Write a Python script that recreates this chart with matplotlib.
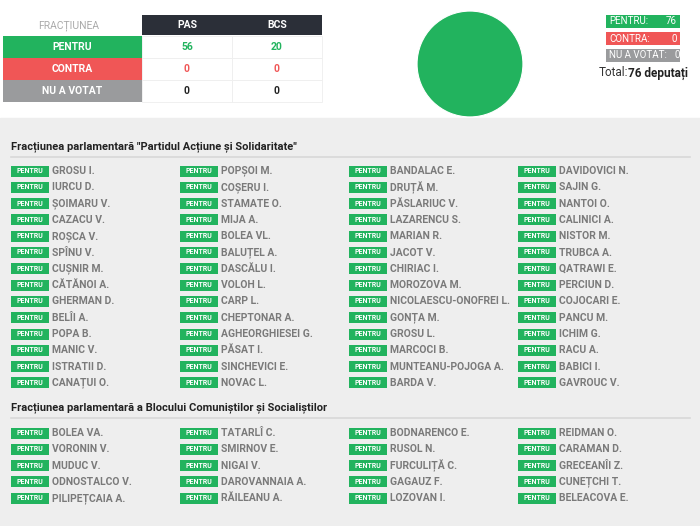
import matplotlib.pyplot as plt
from matplotlib.patches import Rectangle

plt.rcParams["font.family"] = "Roboto"

GREEN = "#22b35e"
RED = "#f05656"
GREY = "#9a9b9d"
DARK = "#2b2f38"

factions = ["PAS", "BCS"]
vote_labels = ["PENTRU", "CONTRA", "NU A VOTAT"]
pas_votes = [56, 0, 0]
bcs_votes = [20, 0, 0]
totals = [a + b for a, b in zip(pas_votes, bcs_votes)]

pas_title = 'Fracțiunea parlamentară "Partidul Acțiune și Solidaritate"'
bcs_title = "Fracțiunea parlamentară a Blocului Comuniștilor și Socialiștilor"

pas_names = [
    ["GROSU I.", "IURCU D.", "ȘOIMARU V.", "CAZACU V.", "ROȘCA V.", "SPÎNU V.", "CUȘNIR M.",
     "CĂTĂNOI A.", "GHERMAN D.", "BELÎI A.", "POPA B.", "MANIC V.", "ISTRATII D.", "CANAȚUI O."],
    ["POPȘOI M.", "COȘERU I.", "STAMATE O.", "MIJA A.", "BOLEA VL.", "BALUȚEL A.", "DASCĂLU I.",
     "VOLOH L.", "CARP L.", "CHEPTONAR A.", "AGHEORGHIESEI G.", "PĂSAT I.", "SINCHEVICI E.", "NOVAC L."],
    ["BANDALAC E.", "DRUȚĂ M.", "PĂSLARIUC V.", "LAZARENCU S.", "MARIAN R.", "JACOT V.", "CHIRIAC I.",
     "MOROZOVA M.", "NICOLAESCU-ONOFREI L.", "GONȚA M.", "GROSU L.", "MARCOCI B.",
     "MUNTEANU-POJOGA A.", "BARDA V."],
    ["DAVIDOVICI N.", "SAJIN G.", "NANTOI O.", "CALINICI A.", "NISTOR M.", "TRUBCA A.", "QATRAWI E.",
     "PERCIUN D.", "COJOCARI E.", "PANCU M.", "ICHIM G.", "RACU A.", "BABICI I.", "GAVROUC V."],
]
bcs_names = [
    ["BOLEA VA.", "VORONIN V.", "MUDUC V.", "ODNOSTALCO V.", "PILIPEȚCAIA A."],
    ["TATARLÎ C.", "SMIRNOV E.", "NIGAI V.", "DAROVANNAIA A.", "RĂILEANU A."],
    ["BODNARENCO E.", "RUSOL N.", "FURCULIȚĂ C.", "GAGAUZ F.", "LOZOVAN I."],
    ["REIDMAN O.", "CARAMAN D.", "GRECEANÎI Z.", "CUNEȚCHI T.", "BELEACOVA E."],
]

fig = plt.figure(figsize=(7, 5.26), dpi=100)
ax = fig.add_axes([0, 0, 1, 1])
ax.set_xlim(0, 700)
ax.set_ylim(526, 0)
ax.axis("off")

# backgrounds
ax.add_patch(Rectangle((0, 118), 700, 408, color="#eeeeee", zorder=0))

# table
ax.text(69, 26, "FRACȚIUNEA", ha="center", va="center", fontsize=7.5, color="#aaaaaa")
col_x = [142, 232]
for i, f in enumerate(factions):
    ax.add_patch(Rectangle((col_x[i], 15), 90, 20, color=DARK, lw=0))
    ax.text(col_x[i] + 45, 25, f, ha="center", va="center", fontsize=7.5,
            color="white", weight="bold")
row_colors = [GREEN, RED, GREY]
num_colors = [GREEN, RED, "#222222"]
for r, lab in enumerate(vote_labels):
    y = 36 + r * 22
    ax.add_patch(Rectangle((3, y), 139, 21.5, color=row_colors[r], lw=0))
    ax.text(72, y + 11, lab, ha="center", va="center", fontsize=7.5,
            color="white", weight="bold")
    for i, vals in enumerate([pas_votes, bcs_votes]):
        ax.add_patch(Rectangle((col_x[i], y), 90, 21.5, facecolor="white",
                               edgecolor="#eeeeee", lw=0.6))
        ax.text(col_x[i] + 45, y + 11, str(vals[r]), ha="center", va="center",
                fontsize=7.5, color=num_colors[r], weight="bold")

# legend
for r, lab in enumerate(vote_labels):
    y = 15 + r * 17
    ax.add_patch(Rectangle((606, y), 74, 12.5, color=row_colors[r], lw=0))
    ax.text(609, y + 6.5, lab + ":", ha="left", va="center", fontsize=7, color="white")
    ax.text(677 if r < 2 else 680, y + 6.5, str(totals[r]), ha="right", va="center",
            fontsize=7, color="white")
ax.text(628, 73, "Total:", ha="right", va="center", fontsize=8.5, color="#333333")
ax.text(688, 73, f"{sum(totals)} deputați", ha="right", va="center", fontsize=8.5,
        color="#222222", weight="bold")

# pie
pax = fig.add_axes([416 / 700, 1 - 118 / 526, 108 / 700, 108 / 526])
vals = [v for v in totals if v > 0]
cols = [c for v, c in zip(totals, row_colors) if v > 0]
pax.pie(vals, colors=cols, startangle=90, radius=1,
        wedgeprops=dict(edgecolor="white", linewidth=0.8))
pax.set_xlim(-1.02, 1.02)
pax.set_ylim(-1.02, 1.02)


def draw_section(title, ty, names, y0):
    ax.text(11, ty, title, ha="left", va="center", fontsize=8, color="#222222",
            weight="bold")
    ax.plot([11, 690], [ty + 10, ty + 10], color="#d8d8d8", lw=1.2)
    for c, col in enumerate(names):
        x = 11 + c * 169
        for r, n in enumerate(col):
            y = y0 + r * 16.3
            ax.add_patch(Rectangle((x, y - 5.5), 38, 11, color=GREEN, lw=0))
            ax.text(x + 19, y, "PENTRU", ha="center", va="center", fontsize=5,
                    color="white", weight="bold")
            ax.text(x + 41, y, n, ha="left", va="center", fontsize=7.5,
                    color="#7a7a7a", weight="bold")


draw_section(pas_title, 147, pas_names, 171)
draw_section(bcs_title, 408, bcs_names, 433)

fig.savefig("out.png", dpi=100)
